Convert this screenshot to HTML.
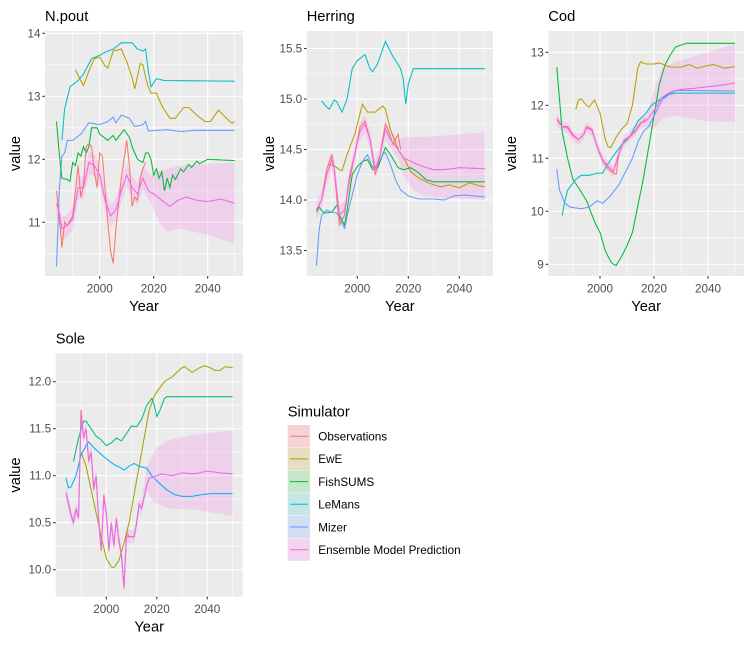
<!DOCTYPE html>
<html><head><meta charset="utf-8">
<style>
html,body{margin:0;padding:0;background:#fff;}
svg{display:block;font-family:"Liberation Sans",Arial,sans-serif;}
</style></head>
<body>
<svg id="s" width="752" height="645" xmlns="http://www.w3.org/2000/svg">
<g id="g"></g>
<text x="287.7" y="416.7" font-size="14.7" fill="#000">Simulator</text>
<rect x="287.7" y="425" width="22.3" height="22.3" fill="#F4D4D4"/><line x1="290" x2="308" y1="436.2" y2="436.2" stroke="#F8766D"/><text x="318.3" y="440.5" font-size="11.7">Observations</text>
<rect x="287.7" y="447.7" width="22.3" height="22.3" fill="#E6DEC0"/><line x1="290" x2="308" y1="458.9" y2="458.9" stroke="#B79F00"/><text x="318.3" y="463.2" font-size="11.7">EwE</text>
<rect x="287.7" y="470.4" width="22.3" height="22.3" fill="#C6E6CC"/><line x1="290" x2="308" y1="481.6" y2="481.6" stroke="#00BA38"/><text x="318.3" y="485.9" font-size="11.7">FishSUMS</text>
<rect x="287.7" y="493.1" width="22.3" height="22.3" fill="#C4E6E6"/><line x1="290" x2="308" y1="504.3" y2="504.3" stroke="#00BFC4"/><text x="318.3" y="508.6" font-size="11.7">LeMans</text>
<rect x="287.7" y="515.8" width="22.3" height="22.3" fill="#D4DEF2"/><line x1="290" x2="308" y1="527" y2="527" stroke="#619CFF"/><text x="318.3" y="531.3" font-size="11.7">Mizer</text>
<rect x="287.7" y="538.5" width="22.3" height="22.3" fill="#F2D4EE"/><line x1="290" x2="308" y1="549.7" y2="549.7" stroke="#F564E3"/><text x="318.3" y="554" font-size="11.7">Ensemble Model Prediction</text>
</svg>
<script>
const g=document.getElementById('g');
let out='';
function interp(pts,yr){
  if(yr<=pts[0][0])return pts[0][1];
  for(let i=1;i<pts.length;i++){if(yr<=pts[i][0]){const a=pts[i-1],b=pts[i];return a[1]+(b[1]-a[1])*(yr-a[0])/(b[0]-a[0]);}}
  return pts[pts.length-1][1];
}
function path(P,pts,col,step){
  let d='';const s=step||0.25;
  for(let yr=pts[0][0];yr<=pts[pts.length-1][0]+1e-6;yr+=s){
    const v=interp(pts,yr);d+=(d?'L':'M')+P.x(yr).toFixed(1)+','+P.y(v).toFixed(1);
  }
  out+=`<path d="${d}" fill="none" stroke="${col}" stroke-width="1.05"/>`;
}
function band(P,up,lo){
  let d='',r='';
  const a=Math.max(up[0][0],lo[0][0]),b=Math.min(up[up.length-1][0],lo[lo.length-1][0]);
  for(let yr=a;yr<=b+1e-6;yr+=0.25){d+=(d?'L':'M')+P.x(yr).toFixed(1)+','+P.y(interp(up,yr)).toFixed(1);}
  for(let yr=b;yr>=a-1e-6;yr-=0.25){r+='L'+P.x(yr).toFixed(1)+','+P.y(interp(lo,yr)).toFixed(1);}
  out+=`<path d="${d}${r}Z" fill="#F564E3" fill-opacity="0.2"/>`;
}
function shift(pts,dv){return pts.map(p=>[p[0],p[1]+dv]);}
function panel(P){
  const {L,R,T,B}=P;
  out+=`<rect x="${L}" y="${T}" width="${R-L}" height="${B-T}" fill="#EBEBEB"/>`;
  P.ymin.forEach(v=>{const y=P.y(v);out+=`<line x1="${L}" x2="${R}" y1="${y}" y2="${y}" stroke="#fff" stroke-width="0.53"/>`;});
  [1990,2010,2030,2050].forEach(v=>{const x=P.x(v);out+=`<line x1="${x}" x2="${x}" y1="${T}" y2="${B}" stroke="#fff" stroke-width="0.53"/>`;});
  P.yt.forEach(v=>{const y=P.y(v);out+=`<line x1="${L}" x2="${R}" y1="${y}" y2="${y}" stroke="#fff" stroke-width="1.07"/><line x1="${L-2.7}" x2="${L}" y1="${y}" y2="${y}" stroke="#333" stroke-width="1.07"/><text x="${L-4.5}" y="${y+4}" font-size="11.7" fill="#4D4D4D" text-anchor="end">${P.fmt?v.toFixed(1):v}</text>`;});
  [2000,2020,2040].forEach(v=>{const x=P.x(v);out+=`<line x1="${x}" x2="${x}" y1="${T}" y2="${B}" stroke="#fff" stroke-width="1.07"/><line x1="${x}" x2="${x}" y1="${B}" y2="${B+2.7}" stroke="#333" stroke-width="1.07"/><text x="${x}" y="${B+16.5}" font-size="11.7" fill="#4D4D4D" text-anchor="middle">${v}</text>`;});
  out+=`<text x="${L}" y="${T-10}" font-size="14.7">${P.title}</text>`;
  out+=`<text x="${(L+R)/2}" y="${B+35}" font-size="14.7" text-anchor="middle">Year</text>`;
  const cy=(T+B)/2;out+=`<text transform="translate(${P.vx},${cy}) rotate(-90)" font-size="14.7" text-anchor="middle">value</text>`;
  band(P,P.up,P.lo);
  P.series.forEach(s=>path(P,s[0],s[1],s[2]));
}
const C={red:'#F8766D',ewe:'#B79F00',fs:'#00BA38',lm:'#00BFC4',mz:'#619CFF',en:'#F564E3'};
// N.pout
const npEns=[[1984,11.3],[1985,11.15],[1986,10.9],[1988,10.95],[1990,11.05],[1992,11.55],[1994,11.55],[1996,11.95],[1998,11.9],[2000,11.75],[2002,11.35],[2004,11.1],[2006,11.2],[2008,11.5],[2010,11.75],[2012,11.55],[2014,11.45],[2016,11.7],[2018,11.5],[2020,11.45],[2023,11.35],[2026,11.25],[2029,11.35],[2032,11.4],[2036,11.35],[2040,11.33],[2045,11.37],[2050,11.3]];
panel({title:'N.pout',L:45,R:243,T:31,B:276,vx:20,x:yr=>99.7+(yr-2000)*2.7,y:v=>159.3-(v-12)*63,yt:[11,12,13,14],ymin:[10.5,11.5,12.5,13.5],
up:shift(npEns.filter(p=>p[0]<=2017),0.18).concat([[2019,11.75],[2022,11.82],[2030,11.9],[2050,11.95]]),
lo:shift(npEns.filter(p=>p[0]<=2017),-0.18).concat([[2019,11.3],[2022,11.0],[2025,10.85],[2030,10.9],[2040,10.8],[2050,10.66]]),
series:[
[[[1986,12.3],[1987,12.8],[1989,13.15],[1992,13.25],[1994,13.35],[1997,13.6],[2000,13.65],[2002,13.7],[2005,13.75],[2008,13.85],[2010,13.85],[2012,13.85],[2014,13.75],[2016,13.72],[2017,13.75],[2018,13.4],[2019,13.15],[2021,13.28],[2024,13.25],[2050,13.24]],C.lm],
[[[1991,13.42],[1993,13.25],[1994,13.17],[1996,13.4],[1998,13.6],[2000,13.62],[2002,13.48],[2003,13.45],[2005,13.72],[2008,13.75],[2010,13.55],[2012,13.3],[2013,13.12],[2015,13.52],[2016,13.5],[2017,13.3],[2018,13.15],[2019,13.05],[2021,13.05],[2023,12.85],[2026,12.65],[2028,12.65],[2031,12.82],[2033,12.82],[2036,12.7],[2039,12.6],[2041,12.6],[2044,12.78],[2047,12.65],[2049,12.57],[2050,12.6]],C.ewe],
[[[1984,10.3],[1985,11.5],[1986,12.05],[1987,12.1],[1988,12.3],[1990,12.3],[1993,12.4],[1996,12.58],[2000,12.55],[2003,12.6],[2005,12.67],[2006,12.58],[2008,12.7],[2011,12.65],[2013,12.52],[2016,12.55],[2017,12.6],[2018,12.45],[2025,12.47],[2030,12.44],[2035,12.46],[2050,12.46]],C.mz],
[[[1984,12.6],[1985,12.1],[1986,11.7],[1988,11.68],[1989,11.65],[1990,11.95],[1991,11.9],[1992,12.1],[1993,12.05],[1994,12.2],[1995,12.1],[1996,12.2],[1997,12.5],[1999,12.5],[2000,12.4],[2003,12.3],[2005,12.38],[2006,12.3],[2009,12.47],[2011,12.35],[2012,12.2],[2014,12.0],[2016,11.95],[2017,12.1],[2018,12.1],[2019,12.0],[2020,11.75],[2021,11.85],[2022,11.7],[2023,11.8],[2024,11.5],[2025,11.7],[2026,11.55],[2027,11.75],[2028,11.68],[2030,11.85],[2031,11.8],[2033,11.92],[2034,11.87],[2036,11.97],[2037,11.93],[2040,12.0],[2050,11.98]],C.fs],
[[[1984,11.5],[1985,11.1],[1986,10.6],[1987,11.0],[1988,10.95],[1990,11.1],[1991,11.5],[1992,11.9],[1993,11.4],[1994,11.6],[1995,12.2],[1996,12.25],[1997,12.2],[1998,11.8],[1999,11.55],[2000,12.1],[2001,12.05],[2003,11.0],[2004,10.55],[2005,10.35],[2006,10.9],[2008,11.7],[2009,12.0],[2010,12.3],[2011,11.9],[2012,11.25],[2013,11.4],[2014,11.35],[2015,11.7],[2016,11.85],[2017,11.95]],C.red],
[npEns,C.en]]});
// Herring
const hEns=[[1984,13.9],[1986,14.0],[1988,14.25],[1990,14.4],[1991,14.3],[1993,13.85],[1995,13.9],[1997,14.2],[1999,14.45],[2001,14.68],[2003,14.75],[2005,14.6],[2007,14.3],[2009,14.45],[2011,14.7],[2013,14.6],[2016,14.5],[2018,14.42],[2022,14.37],[2026,14.33],[2030,14.3],[2034,14.3],[2040,14.32],[2050,14.31]];
panel({title:'Herring',L:306.7,R:493,T:31,B:276,vx:274,fmt:1,x:yr=>357.3+(yr-2000)*2.55,y:v=>200-(v-14)*101,yt:[13.5,14,14.5,15,15.5],ymin:[13.75,14.25,14.75,15.25],
up:shift(hEns.filter(p=>p[0]<=2016),0.09).concat([[2018,14.62],[2030,14.63],[2050,14.67]]),
lo:shift(hEns.filter(p=>p[0]<=2016),-0.09).concat([[2018,14.25],[2022,14.1],[2025,14.05],[2030,14.03],[2050,14.0]]),
series:[
[[[1986,14.98],[1988,14.92],[1989,14.9],[1991,14.99],[1992,14.97],[1994,14.87],[1996,15.0],[1998,15.3],[2000,15.38],[2003,15.44],[2005,15.3],[2006,15.27],[2008,15.35],[2011,15.57],[2014,15.42],[2017,15.3],[2018,15.2],[2019,14.95],[2020,15.15],[2022,15.3],[2050,15.3]],C.lm],
[[[1989,14.35],[1991,14.34],[1993,14.3],[1994,14.29],[1996,14.45],[1999,14.65],[2001,14.85],[2002,14.95],[2004,14.87],[2007,14.87],[2010,14.93],[2011,14.9],[2013,14.7],[2016,14.5],[2019,14.38],[2021,14.28],[2024,14.22],[2027,14.18],[2030,14.15],[2033,14.13],[2036,14.15],[2040,14.12],[2044,14.17],[2048,14.14],[2050,14.13]],C.ewe],
[[[1984,13.88],[1985,13.93],[1987,13.87],[1990,13.88],[1992,13.95],[1993,13.85],[1995,13.75],[1996,13.9],[1998,14.25],[2000,14.33],[2002,14.38],[2004,14.4],[2006,14.3],[2008,14.32],[2010,14.45],[2011,14.52],[2013,14.45],[2016,14.32],[2018,14.3],[2021,14.32],[2024,14.27],[2027,14.2],[2030,14.18],[2050,14.18]],C.fs],
[[[1984,13.35],[1985,13.7],[1986,13.85],[1988,13.9],[1990,13.88],[1992,13.87],[1994,13.77],[1995,13.72],[1997,13.95],[2000,14.25],[2002,14.38],[2004,14.45],[2006,14.32],[2008,14.35],[2010,14.45],[2011,14.47],[2013,14.35],[2015,14.2],[2017,14.1],[2020,14.04],[2024,14.01],[2030,14.01],[2034,14.0],[2038,14.04],[2042,14.05],[2050,14.03]],C.mz],
[[[1984,13.9],[1986,14.0],[1988,14.3],[1990,14.45],[1991,14.3],[1992,14.0],[1993,13.75],[1995,13.85],[1997,14.25],[1999,14.45],[2001,14.72],[2003,14.78],[2005,14.6],[2007,14.25],[2009,14.45],[2011,14.75],[2012,14.7],[2014,14.55],[2016,14.65],[2017,14.5]],C.red],
[hEns,C.en]]});
// Cod
const cEns=[[1984,11.72],[1986,11.6],[1988,11.57],[1990,11.42],[1992,11.35],[1994,11.45],[1995,11.58],[1997,11.52],[1999,11.22],[2001,10.97],[2003,10.85],[2005,10.75],[2007,11.1],[2009,11.33],[2011,11.42],[2013,11.52],[2015,11.67],[2017,11.7],[2020,11.9],[2023,12.15],[2026,12.25],[2030,12.3],[2035,12.32],[2040,12.35],[2045,12.38],[2050,12.42]];
panel({title:'Cod',L:548.3,R:744,T:31,B:276,vx:516,x:yr=>600+(yr-2000)*2.7,y:v=>211.3-(v-10)*53,yt:[9,10,11,12,13],ymin:[9.5,10.5,11.5,12.5],
up:shift(cEns.filter(p=>p[0]<=2017),0.1).concat([[2018,11.9],[2020,12.3],[2023,12.7],[2028,12.82],[2040,13.0],[2050,13.15]]),
lo:shift(cEns.filter(p=>p[0]<=2017),-0.1).concat([[2018,11.6],[2020,11.55],[2023,11.75],[2028,11.8],[2040,11.7],[2050,11.68]]),
series:[
[[[1984,12.72],[1986,11.5],[1988,11.0],[1990,10.6],[1992,10.45],[1995,10.2],[1998,9.8],[2000,9.6],[2002,9.25],[2004,9.05],[2005,9.0],[2006,8.98],[2008,9.15],[2010,9.35],[2012,9.6],[2014,10.1],[2016,10.6],[2018,11.2],[2020,11.8],[2022,12.4],[2024,12.75],[2026,12.95],[2028,13.1],[2032,13.17],[2050,13.17]],C.fs],
[[[1991,11.92],[1992,12.1],[1993,12.12],[1995,12.0],[1996,11.97],[1998,12.1],[2000,11.85],[2002,11.35],[2003,11.22],[2004,11.2],[2006,11.4],[2008,11.55],[2010,11.65],[2012,12.0],[2014,12.7],[2015,12.82],[2017,12.78],[2020,12.78],[2022,12.8],[2026,12.72],[2030,12.72],[2033,12.77],[2036,12.7],[2040,12.75],[2042,12.77],[2046,12.7],[2050,12.73]],C.ewe],
[[[1986,9.92],[1987,10.2],[1988,10.4],[1991,10.6],[1993,10.68],[1996,10.68],[1999,10.72],[2001,10.72],[2003,10.9],[2005,11.05],[2008,11.25],[2011,11.4],[2014,11.7],[2017,11.85],[2019,12.0],[2022,12.1],[2025,12.2],[2028,12.23],[2050,12.23]],C.lm],
[[[1984,10.8],[1985,10.4],[1987,10.15],[1989,10.08],[1993,10.05],[1996,10.08],[1999,10.2],[2001,10.15],[2004,10.3],[2007,10.5],[2010,10.8],[2012,11.0],[2014,11.3],[2016,11.5],[2018,11.6],[2020,11.8],[2023,12.1],[2026,12.22],[2028,12.28],[2032,12.28],[2050,12.27]],C.mz],
[[[1984,11.75],[1986,11.6],[1988,11.6],[1990,11.45],[1992,11.35],[1994,11.45],[1995,11.6],[1997,11.55],[1999,11.2],[2001,10.95],[2003,10.8],[2005,10.72],[2006,10.7],[2007,11.1],[2009,11.35],[2011,11.4],[2013,11.5],[2015,11.65],[2017,11.75]],C.red],
[cEns,C.en]]});
// Sole
const sObs=[[1984,10.82],[1985,10.7],[1986,10.58],[1987,10.5],[1988,10.65],[1989,10.55],[1990,11.7],[1991,11.4],[1992,11.5],[1993,11.15],[1994,11.25],[1995,10.85],[1996,11.0],[1997,10.5],[1998,10.2],[1999,10.8],[2000,10.6],[2001,10.2],[2002,10.5],[2003,10.25],[2004,10.55],[2005,10.3],[2006,10.15],[2007,9.8],[2008,10.4],[2009,10.35],[2011,10.35],[2012,10.5],[2013,10.7],[2014,10.65],[2016,10.9],[2017,10.98]];
const sEns=sObs.map(p=>[p[0],p[1]*0.85+interp(sObs,p[0]-0.5)*0.15]).concat([[2018,10.98],[2022,11.02],[2026,11.0],[2030,11.03],[2035,11.02],[2040,11.05],[2045,11.03],[2050,11.02]]);
panel({title:'Sole',L:55.7,R:242.7,T:353.3,B:596.7,vx:20,fmt:1,x:yr=>106.3+(yr-2000)*2.525,y:v=>475.7-(v-11)*94,yt:[10,10.5,11,11.5,12],ymin:[10.25,10.75,11.25,11.75],
up:shift(sEns.filter(p=>p[0]<=2015),0.07).concat([[2016,11.1],[2018,11.2],[2020,11.3],[2025,11.38],[2035,11.44],[2050,11.48]]),
lo:shift(sEns.filter(p=>p[0]<=2015),-0.07).concat([[2016,10.85],[2018,10.75],[2020,10.7],[2025,10.65],[2035,10.64],[2050,10.57]]),
series:[
[[[1990,11.25],[1992,11.1],[1994,10.85],[1996,10.6],[1998,10.35],[2000,10.12],[2002,10.03],[2003,10.02],[2005,10.1],[2007,10.28],[2009,10.5],[2011,10.8],[2013,11.1],[2015,11.4],[2017,11.7],[2019,11.85],[2021,11.93],[2023,12.0],[2026,12.05],[2028,12.1],[2030,12.15],[2031,12.16],[2034,12.1],[2037,12.15],[2039,12.17],[2041,12.15],[2043,12.12],[2045,12.12],[2047,12.16],[2050,12.15]],'#A3A500'],
[[[1987,11.15],[1989,11.4],[1991,11.58],[1992,11.58],[1994,11.5],[1996,11.42],[1998,11.38],[2000,11.32],[2002,11.35],[2004,11.4],[2006,11.37],[2008,11.45],[2010,11.53],[2012,11.52],[2014,11.6],[2016,11.75],[2018,11.82],[2019,11.75],[2020,11.63],[2021,11.68],[2023,11.82],[2024,11.84],[2050,11.84]],'#00BF7D'],
[[[1984,10.98],[1985,10.87],[1986,10.88],[1988,11.0],[1990,11.22],[1992,11.32],[1993,11.36],[1995,11.3],[1997,11.25],[2000,11.18],[2003,11.12],[2006,11.08],[2007,11.06],[2009,11.1],[2011,11.13],[2013,11.1],[2016,11.08],[2018,11.0],[2021,10.92],[2024,10.85],[2027,10.8],[2030,10.78],[2034,10.78],[2038,10.8],[2042,10.81],[2050,10.81]],'#00B0F6'],
[sObs,C.red],
[sEns,'#E76BF3']]});
g.innerHTML=out;
</script>
</body></html>
